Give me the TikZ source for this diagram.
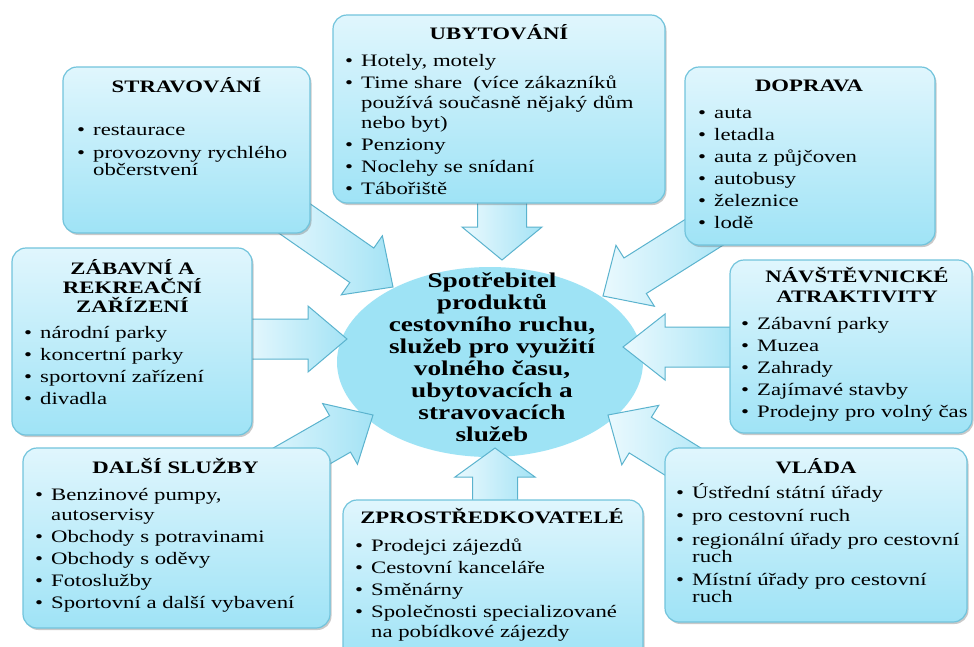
\documentclass[tikz,border=0pt]{standalone}
\usepackage{fontspec}
\setmainfont{Liberation Serif}[FakeStretch=1.3]
\usetikzlibrary{calc,shapes.geometric,shadows}

\definecolor{boxtop}{HTML}{E0F6FD}
\definecolor{boxbot}{HTML}{9FE3F6}
\definecolor{boxline}{HTML}{72C4DC}
\definecolor{arrL}{HTML}{EAF9FE}
\definecolor{arrR}{HTML}{A4E3F5}
\definecolor{arrline}{HTML}{5BB3CE}
\definecolor{ellfill}{HTML}{9EE3F5}

\tikzset{
 infobox/.style={draw=boxline, line width=1.2pt, rounded corners=14pt,
   top color=boxtop, bottom color=boxbot, inner sep=0pt, outer sep=0pt,
   drop shadow={shadow xshift=1.5pt, shadow yshift=-2pt, opacity=0.35, fill=black!60}},
 blockarr/.style={draw=arrline, line width=1pt, left color=arrL, right color=arrR, line join=miter},
 ttl/.style={font=\fontsize{17.5}{19}\selectfont\bfseries, inner sep=0pt, anchor=base},
 lst/.style={inner sep=0pt, anchor=base west},
 ctr/.style={font=\fontsize{21}{22.1}\selectfont\bfseries, inner sep=0pt, anchor=base},
}

\newdimen\itemgap
\newcommand{\li}[1]{\par\hangindent=16pt\hangafter=1\noindent\makebox[16pt][l]{\textbullet}#1\par\vskip\itemgap}
\newcommand{\blist}[2][20pt]{\vtop{\hsize=330pt\fontsize{17.5}{#1}\selectfont
  \baselineskip=#1\lineskiplimit=-60pt\lineskip=0pt\parindent=0pt\parskip=0pt\itemgap=2pt\relax #2}}
\newcommand{\ctitle}[2]{\vtop{\hsize=#1\centering\lineskiplimit=-60pt\lineskip=0pt\parindent=0pt #2\par}}

\newcommand{\blockarrow}[5]{%
  \coordinate (hb) at ($(#2)!#5!(#1)$);
  \draw[blockarr] ($(#1)!#3!90:(#2)$) -- ($(hb)!#3!90:(#2)$) -- ($(hb)!#4!90:(#2)$) -- (#2)
    -- ($(hb)!#4!-90:(#2)$) -- ($(hb)!#3!-90:(#2)$) -- ($(#1)!#3!-90:(#2)$) -- cycle;
}

\begin{document}
\begin{tikzpicture}[x=1pt,y=-1pt]
\useasboundingbox (0,0) rectangle (974,646);
\fill[white] (0,0) rectangle (974,646);
\clip (0,0) rectangle (974,646);

% central ellipse
\node[ellipse, fill=ellfill, minimum width=306pt, minimum height=190pt, inner sep=0pt] (cons) at (490,362) {};

% arrow end points
\coordinate (uS) at (502,195); \coordinate (uT) at (502,260);
\coordinate (pS) at (495,515); \coordinate (pT) at (495,448);
\coordinate (zS) at (240,339); \coordinate (zT) at (347,339);
\coordinate (nS) at (745,347); \coordinate (nT) at (623,347);
\coordinate (sS) at (278,207); \coordinate (sT) at (393,287);
\coordinate (dS) at (730,216); \coordinate (dT) at (603,296);
\coordinate (fS) at (251,485); \coordinate (fT) at (373,415);
\coordinate (vS) at (727,489); \coordinate (vT) at (608,415);

\blockarrow{uS}{uT}{24.5pt}{40pt}{33pt}
\blockarrow{pS}{pT}{22.5pt}{40pt}{29pt}
\blockarrow{zS}{zT}{20pt}{33pt}{39pt}
\blockarrow{nS}{nT}{20pt}{33pt}{42pt}
\blockarrow{sS}{sT}{21pt}{36pt}{38pt}
\blockarrow{dS}{dT}{21pt}{36pt}{38pt}
\blockarrow{fS}{fT}{21pt}{35pt}{38pt}
\blockarrow{vS}{vT}{21pt}{35pt}{38pt}

% boxes
\node[infobox, minimum width=247pt, minimum height=166pt] (sbox) at (186.5,150) {};
\node[infobox, minimum width=332pt, minimum height=188pt] (ubox) at (499,109) {};
\node[infobox, minimum width=250pt, minimum height=178pt] (dbox) at (810,156) {};
\node[infobox, minimum width=240pt, minimum height=187pt] (zbox) at (132,341.5) {};
\node[infobox, minimum width=242pt, minimum height=173pt] (nbox) at (851,346.5) {};
\node[infobox, minimum width=307pt, minimum height=180pt] (fbox) at (176.5,538) {};
\node[infobox, minimum width=300pt, minimum height=160pt] (pbox) at (493,580) {};
\node[infobox, minimum width=302pt, minimum height=174pt] (vlbox) at (816,535) {};

% titles
\node[ttl] (st) at (186.5,92) {STRAVOVÁNÍ};
\node[ttl] (ut) at (499,39) {UBYTOVÁNÍ};
\node[ttl] (dt) at (809,91) {DOPRAVA};
\node[ttl] (zt) at (132.5,274) {\ctitle{230pt}{ZÁBAVNÍ A\\REKREAČNÍ\\ZAŘÍZENÍ}};
\node[ttl, font=\fontsize{17.5}{20}\selectfont\bfseries] (nt) at (857,282) {\ctitle{240pt}{NÁVŠTĚVNICKÉ\\ATRAKTIVITY}};
\node[ttl] (ft) at (175.5,473) {DALŠÍ SLUŽBY};
\node[ttl] (pt) at (492,523) {ZPROSTŘEDKOVATELÉ};
\node[ttl] (vt) at (816,473) {VLÁDA};

% lists
\node[lst] (sl) at (77,135) {\blist[17pt]{\itemgap=6pt
  \li{restaurace}
  \li{provozovny rychlého\newline občerstvení}}};
\node[lst] (ul) at (345,66) {\blist{
  \li{Hotely, motely}
  \li{Time share \ (více zákazníků\newline používá současně nějaký dům\newline nebo byt)}
  \li{Penziony}
  \li{Noclehy se snídaní}
  \li{Tábořiště}}};
\node[lst] (dl) at (698,118) {\blist{
  \li{auta}
  \li{letadla}
  \li{auta z půjčoven}
  \li{autobusy}
  \li{železnice}
  \li{lodě}}};
\node[lst] (zl) at (24,338) {\blist{
  \li{národní parky}
  \li{koncertní parky}
  \li{sportovní zařízení}
  \li{divadla}}};
\node[lst] (nl) at (741,329) {\blist{
  \li{Zábavní parky}
  \li{Muzea}
  \li{Zahrady}
  \li{Zajímavé stavby}
  \li{Prodejny pro volný čas}}};
\node[lst] (fl) at (35,500) {\blist{
  \li{Benzinové pumpy,\newline autoservisy}
  \li{Obchody s potravinami}
  \li{Obchody s oděvy}
  \li{Fotoslužby}
  \li{Sportovní a další vybavení}}};
\node[lst] (pl) at (355,551) {\blist{
  \li{Prodejci zájezdů}
  \li{Cestovní kanceláře}
  \li{Směnárny}
  \li{Společnosti specializované\newline na pobídkové zájezdy}}};
\node[lst] (vl) at (676,498) {\blist[17pt]{\itemgap=6.5pt
  \li{Ústřední státní úřady}
  \li{pro cestovní ruch}
  \li{regionální úřady pro cestovní\newline ruch}
  \li{Místní úřady pro cestovní\newline ruch}}};

% centre text
\node[ctr] (ct) at (492,287) {\ctitle{300pt}{Spotřebitel\\produktů\\cestovního ruchu,\\služeb pro využití\\volného času,\\ubytovacích a\\stravovacích\\služeb}};
\end{tikzpicture}
\end{document}
